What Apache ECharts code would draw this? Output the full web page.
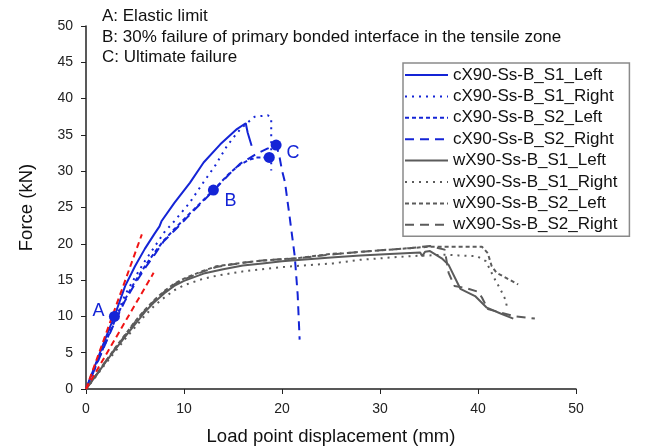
<!DOCTYPE html>
<html>
<head>
<meta charset="utf-8">
<script src="https://cdn.jsdelivr.net/npm/echarts@6/dist/echarts.min.js"></script>
<style>
  html, body { margin: 0; padding: 0; background: #fff; }
  #chart { width: 649px; height: 448px; }
</style>
</head>
<body>
<div id="chart"></div>
<script>
// load point displacement (mm) / force (kN)
const cS1LeftX = [0, 1, 2, 3, 4, 5, 6, 7, 7.5, 7.7, 9, 10.6, 12, 13.7, 15.4, 16.3, 16.5, 16.9]
const cS1LeftY = [0, 3.5, 7.0, 10.4, 14.2, 16.9, 19.3, 21.4, 22.4, 23.1, 25.6, 28.4, 31.2, 33.7, 35.8, 36.6, 35.3, 33.5]

const cS1RightX = [0, 1, 2, 3, 4, 5, 6, 7, 8, 9, 10.6, 12, 13.2, 14.4, 15.2, 15.7, 16.4, 17.2, 18.55, 18.9, 18.9, 18.9]
const cS1RightY = [0, 3.3, 6.6, 9.8, 13.0, 15.4, 17.6, 19.6, 21.6, 23.1, 25.7, 28.5, 30.8, 33.5, 34.9, 35.7, 36.6, 37.5, 37.7, 37.3, 33.0, 30.1]

const cS2LeftX = [0, 1, 2, 3, 4, 5, 6.2, 7, 7.9, 9, 10.3, 11.3, 13, 14.7, 15.7, 16.7, 17.5, 18.7]
const cS2LeftY = [0, 3.2, 6.4, 9.6, 12.4, 14.8, 17.3, 18.8, 20.4, 22.0, 23.8, 25.1, 27.4, 29.8, 30.9, 31.6, 31.9, 31.9]

const cS2RightX = [0, 1, 2, 3, 4, 5, 6.2, 7, 7.9, 9, 10.3, 11.3, 13, 14.7, 15.7, 17.4, 18.5, 19.4, 19.7, 20.0, 20.3, 20.8, 21.3, 21.6, 21.8]
const cS2RightY = [0, 3.1, 6.3, 9.4, 12.2, 14.5, 17.0, 18.5, 20.3, 21.8, 23.6, 25.0, 27.3, 29.7, 31.0, 32.4, 33.1, 33.6, 32.3, 30.1, 28.5, 23.5, 18.3, 13.0, 6.8]

const wS1LeftX = [0, 1, 2, 3, 4, 5, 6, 7, 8, 9, 10, 12, 14, 16, 18, 20, 22, 25, 28, 31, 34.1, 34.3, 34.6, 35.1, 36.3, 37, 38.2, 39.7, 40.9, 42.3, 43.6]
const wS1LeftY = [0, 1.8, 3.7, 5.5, 7.2, 8.9, 10.6, 12.0, 13.2, 14.2, 14.9, 15.9, 16.5, 17.0, 17.3, 17.6, 17.8, 18.1, 18.4, 18.6, 18.8, 18.3, 18.9, 19.0, 18.0, 17.1, 13.8, 12.8, 11.2, 10.4, 9.7]

const wS1RightX = [0, 1, 2, 3, 4, 5, 6, 7, 8, 9, 10, 12, 13.3, 16, 18, 20.1, 22, 25.2, 28, 31, 33.1, 35, 36.8, 38, 39.9, 40.8, 41.8, 42.3, 42.8, 43.0]
const wS1RightY = [0, 1.7, 3.5, 5.2, 6.9, 8.5, 10.1, 11.5, 12.6, 13.6, 14.3, 15.2, 15.6, 16.2, 16.5, 16.8, 17.0, 17.3, 17.8, 18.1, 18.3, 18.4, 18.5, 18.4, 18.3, 17.6, 14.9, 13.7, 12.3, 11.0]

const wS2LeftX = [0, 1, 2, 3, 4, 5, 6, 7, 8, 9, 10, 12, 13.3, 16, 18, 21.5, 24.9, 26.3, 30, 33, 35.1, 38, 40.4, 41.0, 41.4, 41.9, 43, 44.1]
const wS2LeftY = [0, 1.9, 3.8, 5.7, 7.5, 9.3, 10.9, 12.3, 13.5, 14.5, 15.2, 16.3, 16.9, 17.4, 17.7, 18.0, 18.6, 18.7, 19.1, 19.4, 19.6, 19.6, 19.6, 18.7, 16.9, 16.0, 15.2, 14.4]

const wS2RightX = [0, 1, 2, 3, 4, 5, 6, 7, 8, 9, 10, 12, 13.3, 16, 18, 21.5, 24.9, 28, 31, 33, 35.1, 36.6, 37.0, 37.6, 38.8, 40.0, 40.4, 41.0, 43.8, 45.8]
const wS2RightY = [0, 1.8, 3.8, 5.6, 7.4, 9.2, 10.8, 12.2, 13.4, 14.4, 15.1, 16.2, 16.8, 17.4, 17.7, 18.0, 18.5, 18.9, 19.2, 19.4, 19.7, 19.2, 16.0, 14.2, 13.9, 13.4, 12.6, 11.0, 10.0, 9.7]

// elastic tangent lines (red, not in the legend)
const tangent1X = [0, 5.7]
const tangent1Y = [0, 21.3]
const tangent2X = [0, 6.9]
const tangent2Y = [0, 16.0]

// A / B / C points
const markX = [2.9, 13.0, 19.4, 18.7]
const markY = [10.0, 27.4, 33.6, 31.9]
const markText = ['A', 'B', 'C', '']

const notes = [
  'A: Elastic limit',
  'B: 30% failure of primary bonded interface in the tensile zone',
  'C: Ultimate failure'
]

const blue = '#1424d6'
const grey = '#5b5b5b'
const font = 'Liberation Sans, Arial, sans-serif'

const pairs = (xs, ys) => xs.map((x, i) => [x, ys[i]])

const curves = [
  { name: 'cX90-Ss-B_S1_Left', x: cS1LeftX, y: cS1LeftY, color: blue, type: 'solid' },
  { name: 'cX90-Ss-B_S1_Right', x: cS1RightX, y: cS1RightY, color: blue, type: [2, 5] },
  { name: 'cX90-Ss-B_S2_Left', x: cS2LeftX, y: cS2LeftY, color: blue, type: [4, 3] },
  { name: 'cX90-Ss-B_S2_Right', x: cS2RightX, y: cS2RightY, color: blue, type: [9, 6] },
  { name: 'wX90-Ss-B_S1_Left', x: wS1LeftX, y: wS1LeftY, color: grey, type: 'solid' },
  { name: 'wX90-Ss-B_S1_Right', x: wS1RightX, y: wS1RightY, color: grey, type: [2, 5] },
  { name: 'wX90-Ss-B_S2_Left', x: wS2LeftX, y: wS2LeftY, color: grey, type: [4, 3] },
  { name: 'wX90-Ss-B_S2_Right', x: wS2RightX, y: wS2RightY, color: grey, type: [9, 6] }
]

const labelOffset = { A: [-16, -5], B: [17, 11], C: [17, 8] }

const series = curves.map(c => ({
  name: c.name,
  type: 'line',
  data: pairs(c.x, c.y),
  symbol: 'none',
  color: c.color,
  lineStyle: { color: c.color, width: 2, type: c.type },
  z: 2
}))

series.push(
  {
    type: 'line',
    data: pairs(tangent1X, tangent1Y),
    symbol: 'none',
    lineStyle: { color: '#f01414', width: 2, type: [6, 4] },
    z: 3
  },
  {
    type: 'line',
    data: pairs(tangent2X, tangent2Y),
    symbol: 'none',
    lineStyle: { color: '#f01414', width: 2, type: [6, 4] },
    z: 3
  },
  {
    type: 'scatter',
    symbolSize: 11,
    itemStyle: { color: blue, opacity: 1 },
    z: 4,
    data: markX.map((x, i) => ({
      value: [x, markY[i]],
      label: {
        show: markText[i] !== '',
        formatter: markText[i],
        position: 'inside',
        offset: labelOffset[markText[i]] || [0, 0],
        color: blue,
        fontSize: 18,
        fontFamily: font
      }
    }))
  }
)

const chart = echarts.init(document.getElementById('chart'))
chart.setOption({
  animation: false,
  backgroundColor: '#fff',
  textStyle: { fontFamily: font },
  grid: { left: 86, right: 73, top: 26, bottom: 59, outerBoundsMode: 'none' },
  legend: {
    data: curves.map(c => c.name),
    orient: 'vertical',
    left: 403,
    top: 63,
    itemWidth: 43,
    itemHeight: 14,
    itemGap: 4.4,
    padding: [3.5, 12, 3, 1],
    borderColor: '#8a8a8a',
    borderWidth: 1.5,
    itemStyle: { opacity: 0 },
    textStyle: { fontSize: 17, color: '#111', fontFamily: font }
  },
  graphic: notes.map((t, i) => ({
    type: 'text',
    left: 102,
    top: 8 + i * 20.5,
    style: { text: t, fontSize: 17, fill: '#111', fontFamily: font }
  })),
  xAxis: {
    type: 'value',
    min: 0,
    max: 50,
    interval: 10,
    name: 'Load point displacement (mm)',
    nameLocation: 'middle',
    nameGap: 38,
    nameTextStyle: { fontSize: 18.5, color: '#111' },
    axisLine: { lineStyle: { color: '#222', width: 1.5 } },
    axisTick: { inside: false, length: 5, lineStyle: { color: '#222' } },
    axisLabel: { fontSize: 14, color: '#222', margin: 13 },
    splitLine: { show: false }
  },
  yAxis: {
    type: 'value',
    min: 0,
    max: 50,
    interval: 5,
    name: 'Force (kN)',
    nameLocation: 'middle',
    nameGap: 50,
    nameTextStyle: { fontSize: 18.5, color: '#111' },
    axisLine: { show: true, lineStyle: { color: '#222', width: 1.5 } },
    axisTick: { show: true, inside: false, length: 5, lineStyle: { color: '#222' } },
    axisLabel: { fontSize: 14, color: '#222', margin: 13 },
    splitLine: { show: false }
  },
  series
})
</script>
</body>
</html>
